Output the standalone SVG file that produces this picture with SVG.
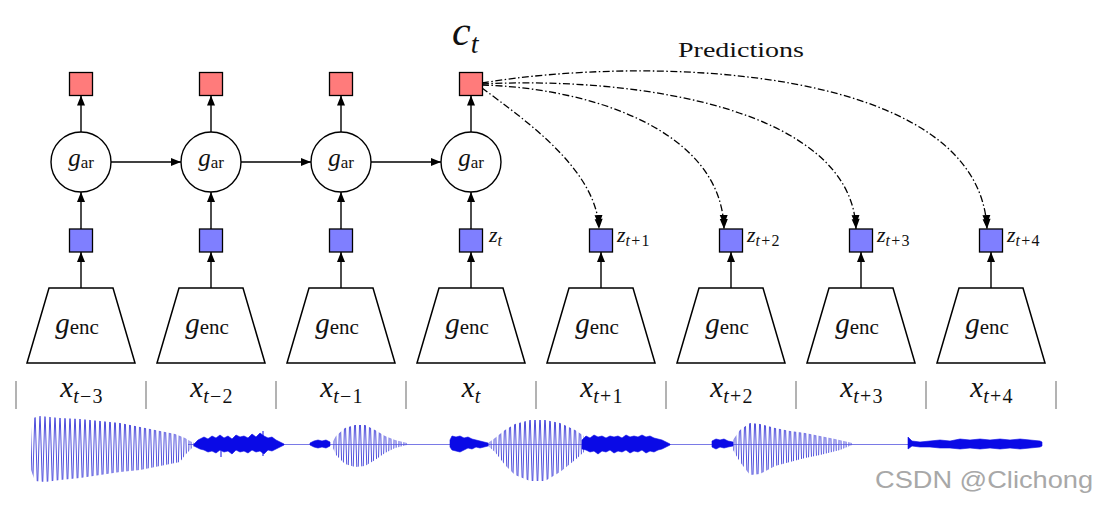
<svg xmlns="http://www.w3.org/2000/svg" width="1110" height="508" viewBox="0 0 1110 508">
<style>
.box{stroke:#000;stroke-width:1.3}
.red{fill:#ff7b7b}
.blue{fill:#7f7fff}
.circ{fill:#fff;stroke:#000;stroke-width:1.4}
.trap{fill:#fff;stroke:#000;stroke-width:1.5;stroke-linejoin:miter}
.arr{stroke:#000;stroke-width:1.4;fill:none}
.pred{stroke:#000;stroke-width:1.3;fill:none;stroke-dasharray:7 2.5 1.5 2.5}
.sep{stroke:#a0a0a0;stroke-width:1.6}
text{font-family:"Liberation Serif","Times New Roman",serif;fill:#111}
.it{font-style:italic}
.sub{letter-spacing:1.2px}
.wm{font-family:"Liberation Sans",Arial,sans-serif;fill:#a8a8a8}
.noise{fill:#0a0ae6;stroke:#0a0ae6;stroke-width:0.6}
.flat{stroke:#7a7ae6;stroke-width:1}
</style>
<defs>
<marker id="ah" markerUnits="userSpaceOnUse" markerWidth="12" markerHeight="10" refX="10" refY="4.5" orient="auto"><path d="M0,0.5 L10,4.5 L0,8.5 z" fill="#000"/></marker>
<marker id="ah2" markerUnits="userSpaceOnUse" markerWidth="16" markerHeight="10" refX="14" refY="4.5" orient="auto"><path d="M4,0.5 L14,4.5 L4,8.5 z M0,0.5 L10,4.5 L0,8.5 z" fill="#000"/></marker>
<pattern id="osc" patternUnits="userSpaceOnUse" x="0" y="410" width="5" height="80"><path d="M0,0 L2.5,80 L5,0" fill="none" stroke="#4f4fdc" stroke-width="1"/></pattern>
</defs>

<g id="connectors">
<line class="arr" x1="81" y1="288" x2="81" y2="252" marker-end="url(#ah)"/>
<line class="arr" x1="211" y1="288" x2="211" y2="252" marker-end="url(#ah)"/>
<line class="arr" x1="341" y1="288" x2="341" y2="252" marker-end="url(#ah)"/>
<line class="arr" x1="471" y1="288" x2="471" y2="252" marker-end="url(#ah)"/>
<line class="arr" x1="601" y1="288" x2="601" y2="252" marker-end="url(#ah)"/>
<line class="arr" x1="731" y1="288" x2="731" y2="252" marker-end="url(#ah)"/>
<line class="arr" x1="861" y1="288" x2="861" y2="252" marker-end="url(#ah)"/>
<line class="arr" x1="991" y1="288" x2="991" y2="252" marker-end="url(#ah)"/>
<line class="arr" x1="81" y1="229" x2="81" y2="192" marker-end="url(#ah)"/>
<line class="arr" x1="211" y1="229" x2="211" y2="192" marker-end="url(#ah)"/>
<line class="arr" x1="341" y1="229" x2="341" y2="192" marker-end="url(#ah)"/>
<line class="arr" x1="471" y1="229" x2="471" y2="192" marker-end="url(#ah)"/>
<line class="arr" x1="81" y1="132" x2="81" y2="95.5" marker-end="url(#ah)"/>
<line class="arr" x1="211" y1="132" x2="211" y2="95.5" marker-end="url(#ah)"/>
<line class="arr" x1="341" y1="132" x2="341" y2="95.5" marker-end="url(#ah)"/>
<line class="arr" x1="471" y1="132" x2="471" y2="95.5" marker-end="url(#ah)"/>
<line class="arr" x1="111" y1="162" x2="181" y2="162" marker-end="url(#ah)"/>
<line class="arr" x1="241" y1="162" x2="311" y2="162" marker-end="url(#ah)"/>
<line class="arr" x1="371" y1="162" x2="441" y2="162" marker-end="url(#ah)"/>
<path class="pred" d="M482,88 C525,120 597,170 599,229" marker-end="url(#ah2)"/>
<path class="pred" d="M482,85 C590,88 722,130 724,229" marker-end="url(#ah2)"/>
<path class="pred" d="M482,84 C640,76 852,110 856,229" marker-end="url(#ah2)"/>
<path class="pred" d="M482,83 C650,55 980,65 987,229" marker-end="url(#ah2)"/>
</g>

<g id="ct-label"><text x="452" y="45" class="it" font-size="42">c<tspan font-size="28" dy="8">t</tspan></text></g>
<g id="predictions-label"><text x="678" y="57" font-size="22" textLength="126" lengthAdjust="spacingAndGlyphs">Predictions</text></g>

<g id="c0"><rect class="box red" x="69.5" y="72.5" width="23" height="23"/></g>
<g id="c1"><rect class="box red" x="199.5" y="72.5" width="23" height="23"/></g>
<g id="c2"><rect class="box red" x="329.5" y="72.5" width="23" height="23"/></g>
<g id="c3"><rect class="box red" x="459.5" y="72.5" width="23" height="23"/></g>

<g id="ar0"><circle class="circ" cx="81" cy="162" r="30"/><text x="81" y="166" text-anchor="middle"><tspan class="it" font-size="25">g</tspan><tspan font-size="17" dy="2">ar</tspan></text></g>
<g id="ar1"><circle class="circ" cx="211" cy="162" r="30"/><text x="211" y="166" text-anchor="middle"><tspan class="it" font-size="25">g</tspan><tspan font-size="17" dy="2">ar</tspan></text></g>
<g id="ar2"><circle class="circ" cx="341" cy="162" r="30"/><text x="341" y="166" text-anchor="middle"><tspan class="it" font-size="25">g</tspan><tspan font-size="17" dy="2">ar</tspan></text></g>
<g id="ar3"><circle class="circ" cx="471" cy="162" r="30"/><text x="471" y="166" text-anchor="middle"><tspan class="it" font-size="25">g</tspan><tspan font-size="17" dy="2">ar</tspan></text></g>

<g id="z0"><rect class="box blue" x="69.5" y="229" width="23" height="23"/></g>
<g id="z1"><rect class="box blue" x="199.5" y="229" width="23" height="23"/></g>
<g id="z2"><rect class="box blue" x="329.5" y="229" width="23" height="23"/></g>
<g id="z3"><rect class="box blue" x="459.5" y="229" width="23" height="23"/><text x="489" y="242" font-size="22"><tspan class="it">z</tspan><tspan class="it" font-size="16" dy="4">t</tspan></text></g>
<g id="z4"><rect class="box blue" x="589.5" y="229" width="23" height="23"/><text x="617" y="242" font-size="22"><tspan class="it">z</tspan><tspan class="sub" font-size="16" dy="4"><tspan class="it">t</tspan>+1</tspan></text></g>
<g id="z5"><rect class="box blue" x="719.5" y="229" width="23" height="23"/><text x="747" y="242" font-size="22"><tspan class="it">z</tspan><tspan class="sub" font-size="16" dy="4"><tspan class="it">t</tspan>+2</tspan></text></g>
<g id="z6"><rect class="box blue" x="849.5" y="229" width="23" height="23"/><text x="877" y="242" font-size="22"><tspan class="it">z</tspan><tspan class="sub" font-size="16" dy="4"><tspan class="it">t</tspan>+3</tspan></text></g>
<g id="z7"><rect class="box blue" x="979.5" y="229" width="23" height="23"/><text x="1007" y="242" font-size="22"><tspan class="it">z</tspan><tspan class="sub" font-size="16" dy="4"><tspan class="it">t</tspan>+4</tspan></text></g>

<g id="enc0"><polygon class="trap" points="49,288 113,288 135,363 27,363"/><text x="77" y="333" text-anchor="middle"><tspan class="it" font-size="29">g</tspan><tspan font-size="21" dy="1">enc</tspan></text></g>
<g id="enc1"><polygon class="trap" points="179,288 243,288 265,363 157,363"/><text x="207" y="333" text-anchor="middle"><tspan class="it" font-size="29">g</tspan><tspan font-size="21" dy="1">enc</tspan></text></g>
<g id="enc2"><polygon class="trap" points="309,288 373,288 395,363 287,363"/><text x="337" y="333" text-anchor="middle"><tspan class="it" font-size="29">g</tspan><tspan font-size="21" dy="1">enc</tspan></text></g>
<g id="enc3"><polygon class="trap" points="439,288 503,288 525,363 417,363"/><text x="467" y="333" text-anchor="middle"><tspan class="it" font-size="29">g</tspan><tspan font-size="21" dy="1">enc</tspan></text></g>
<g id="enc4"><polygon class="trap" points="569,288 633,288 655,363 547,363"/><text x="597" y="333" text-anchor="middle"><tspan class="it" font-size="29">g</tspan><tspan font-size="21" dy="1">enc</tspan></text></g>
<g id="enc5"><polygon class="trap" points="699,288 763,288 785,363 677,363"/><text x="727" y="333" text-anchor="middle"><tspan class="it" font-size="29">g</tspan><tspan font-size="21" dy="1">enc</tspan></text></g>
<g id="enc6"><polygon class="trap" points="829,288 893,288 915,363 807,363"/><text x="857" y="333" text-anchor="middle"><tspan class="it" font-size="29">g</tspan><tspan font-size="21" dy="1">enc</tspan></text></g>
<g id="enc7"><polygon class="trap" points="959,288 1023,288 1045,363 937,363"/><text x="987" y="333" text-anchor="middle"><tspan class="it" font-size="29">g</tspan><tspan font-size="21" dy="1">enc</tspan></text></g>

<g id="separators">
<line class="sep" x1="16" y1="381" x2="16" y2="409"/>
<line class="sep" x1="146" y1="381" x2="146" y2="409"/>
<line class="sep" x1="276" y1="381" x2="276" y2="409"/>
<line class="sep" x1="406" y1="381" x2="406" y2="409"/>
<line class="sep" x1="536" y1="381" x2="536" y2="409"/>
<line class="sep" x1="666" y1="381" x2="666" y2="409"/>
<line class="sep" x1="796" y1="381" x2="796" y2="409"/>
<line class="sep" x1="926" y1="381" x2="926" y2="409"/>
<line class="sep" x1="1056" y1="381" x2="1056" y2="409"/>
</g>

<g id="x-labels">
<text x="82" y="397" text-anchor="middle"><tspan class="it" font-size="29">x</tspan><tspan class="sub" font-size="20" dy="6"><tspan class="it">t</tspan>−3</tspan></text>
<text x="212" y="397" text-anchor="middle"><tspan class="it" font-size="29">x</tspan><tspan class="sub" font-size="20" dy="6"><tspan class="it">t</tspan>−2</tspan></text>
<text x="342" y="397" text-anchor="middle"><tspan class="it" font-size="29">x</tspan><tspan class="sub" font-size="20" dy="6"><tspan class="it">t</tspan>−1</tspan></text>
<text x="471" y="397" text-anchor="middle"><tspan class="it" font-size="29">x</tspan><tspan class="it" font-size="20" dy="6">t</tspan></text>
<text x="602" y="397" text-anchor="middle"><tspan class="it" font-size="29">x</tspan><tspan class="sub" font-size="20" dy="6"><tspan class="it">t</tspan>+1</tspan></text>
<text x="732" y="397" text-anchor="middle"><tspan class="it" font-size="29">x</tspan><tspan class="sub" font-size="20" dy="6"><tspan class="it">t</tspan>+2</tspan></text>
<text x="862" y="397" text-anchor="middle"><tspan class="it" font-size="29">x</tspan><tspan class="sub" font-size="20" dy="6"><tspan class="it">t</tspan>+3</tspan></text>
<text x="992" y="397" text-anchor="middle"><tspan class="it" font-size="29">x</tspan><tspan class="sub" font-size="20" dy="6"><tspan class="it">t</tspan>+4</tspan></text>
</g>

<g id="waveform">
<line class="flat" x1="188" y1="444.5" x2="910" y2="444.5"/>
<polygon fill="url(#osc)" points="31,425 33,418 40,416 50,417 60,418 80,419 100,421 120,423 140,427 160,431 175,434 185,438 190,441 194,443 194,446 190,450 185,455 180,462 160,466 140,470 120,472 100,475 80,478 60,480 45,482 35,481 31,470"/>
<polygon fill="url(#osc)" points="332,443 336,436 345,428 355,425 365,425 375,430 385,436 395,440 407,443 407,445 395,448 385,453 375,460 365,466 355,467 345,464 336,455 332,446"/>
<polygon fill="url(#osc)" points="488,443 495,438 505,430 515,424 530,420 545,420 560,423 575,430 584,436 584,452 575,460 560,472 545,481 530,481 515,475 505,465 495,452 488,446"/>
<polygon fill="url(#osc)" points="733,440 740,430 750,423 760,424 775,428 790,431 805,433 820,436 835,439 848,442 852,443 852,445 840,450 820,455 805,458 790,462 775,466 760,474 750,475 740,462 733,450"/>
<polygon class="noise" points="194,444 198,440 204,437 208,439 212,436 216,438 220,435 224,438 228,436 232,439 236,435 240,437 244,436 248,438 252,434 256,437 260,433 264,436 268,438 272,437 276,440 280,442 284,444 284,445 280,447 276,449 272,451 268,450 264,454 260,451 256,452 252,450 248,453 244,451 240,452 236,450 232,454 228,451 224,452 220,450 216,453 212,451 208,452 204,450 200,449 194,446"/>
<line x1="221" y1="440" x2="221" y2="457" stroke="#0a0ae6" stroke-width="1"/>
<line x1="263" y1="431" x2="263" y2="456" stroke="#0a0ae6" stroke-width="1"/>
<polygon class="noise" points="310,443 314,441 318,440 322,441 326,440 330,442 330,446 326,448 322,447 318,448 314,447 310,445"/>
<polygon class="noise" points="450,440 452,436 456,437 460,436 464,438 468,437 472,439 476,440 480,441 484,442 488,443 488,446 484,447 480,448 476,447 472,449 468,448 464,450 460,452 456,451 452,450 450,447"/>
<polygon class="noise" points="582,440 586,436 590,438 594,435 598,437 602,436 606,438 610,436 614,437 618,436 622,438 626,435 630,437 634,436 638,437 642,435 646,437 650,436 654,438 658,439 662,440 666,442 670,444 670,445 666,447 662,449 658,450 654,452 650,451 646,453 642,450 638,452 634,451 630,453 626,450 622,452 618,451 614,453 610,450 606,452 602,451 598,454 594,451 590,452 586,450 582,449"/>
<polygon class="noise" points="712,441 716,439 720,440 724,439 728,441 733,442 733,446 728,447 724,448 720,447 716,449 712,447"/>
<polygon class="noise" points="908,437 912,441 920,442 930,441 940,440 950,441 960,439 970,440 980,439 990,440 1000,439 1010,440 1020,439 1030,440 1040,441 1042,442 1042,446 1040,447 1030,448 1020,449 1010,448 1000,449 990,448 980,449 970,448 960,449 950,448 940,448 930,447 920,447 912,446 908,449"/>
</g>

<g id="watermark"><text class="wm" x="875" y="488" font-size="24" textLength="218" lengthAdjust="spacingAndGlyphs">CSDN @Clichong</text></g>
</svg>
